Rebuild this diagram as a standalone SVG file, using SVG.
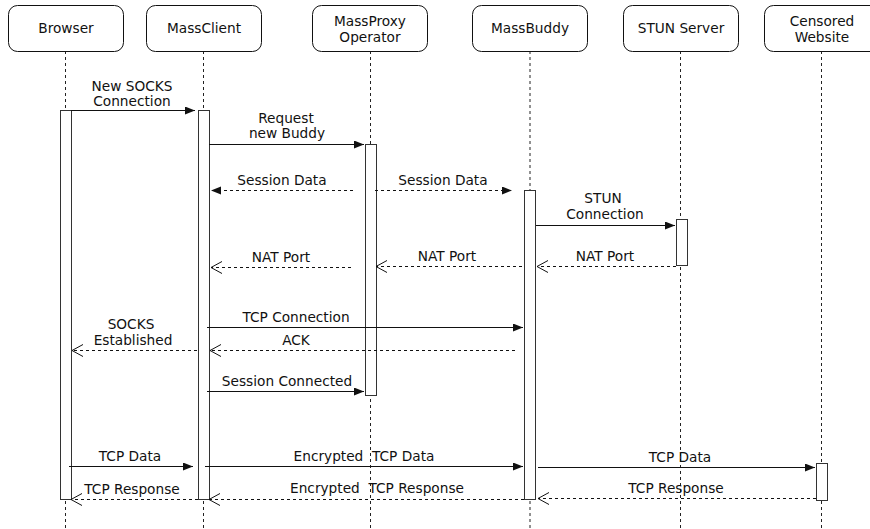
<svg xmlns="http://www.w3.org/2000/svg" width="870" height="529" viewBox="0 0 870 529">
<style>
text{font-family:"DejaVu Sans","Liberation Sans",sans-serif;font-size:13.7px;fill:#111;text-anchor:middle;white-space:pre}
.box{fill:#fff;stroke:#111;stroke-width:1}
.life{stroke:#222;stroke-width:1;stroke-dasharray:3 3;fill:none}
.act{fill:#fff;stroke:#333;stroke-width:1}
.m{stroke:#111;stroke-width:1;fill:none}
.d{stroke-dasharray:3 3}
.f{marker-end:url(#fa)}
.o{marker-end:url(#oa)}
</style>
<defs>
<marker id="fa" markerUnits="userSpaceOnUse" markerWidth="12" markerHeight="10" refX="10" refY="4" orient="auto" viewBox="0 0 12 10"><path d="M0,0 L10,4 L0,8 Z" fill="#111"/></marker>
<marker id="oa" markerUnits="userSpaceOnUse" markerWidth="14" markerHeight="14" refX="11" refY="6" orient="auto" viewBox="-1 -1 14 14"><path d="M0,0 L11,6 L0,12" fill="none" stroke="#111" stroke-width="1"/></marker>
</defs>
<g id="lifelines">
<line class="life" x1="65.5" y1="51" x2="65.5" y2="529"/>
<line class="life" x1="203.5" y1="51" x2="203.5" y2="529"/>
<line class="life" x1="370.5" y1="51" x2="370.5" y2="529"/>
<line class="life" x1="530" y1="51" x2="530" y2="529"/>
<line class="life" x1="680.5" y1="51" x2="680.5" y2="529"/>
<line class="life" x1="821.5" y1="51" x2="821.5" y2="529"/>
</g>
<g id="browser"><rect class="box" x="8.5" y="5.5" width="115" height="46" rx="9"/><text x="66" y="33">Browser</text><rect class="act" x="60.5" y="110.5" width="11" height="389"/></g>
<g id="massclient"><rect class="box" x="146.5" y="5.5" width="115" height="46" rx="9"/><text x="204" y="33">MassClient</text><rect class="act" x="198.5" y="110.5" width="11" height="389"/></g>
<g id="massproxy"><rect class="box" x="312.5" y="5.5" width="115" height="46" rx="9"/><text x="370" y="26">MassProxy</text><text x="370" y="41.5">Operator</text><rect class="act" x="365.5" y="144.5" width="11" height="251"/></g>
<g id="massbuddy"><rect class="box" x="472.5" y="5.5" width="115" height="46" rx="9"/><text x="530" y="33">MassBuddy</text><rect class="act" x="524.5" y="190.5" width="11" height="309"/></g>
<g id="stun"><rect class="box" x="623.5" y="5.5" width="115" height="46" rx="9"/><text x="681" y="33">STUN Server</text><rect class="act" x="676.5" y="219.5" width="11" height="46"/></g>
<g id="censored"><rect class="box" x="764.5" y="5.5" width="115" height="46" rx="9"/><text x="822" y="26">Censored</text><text x="822" y="41.5">Website</text><rect class="act" x="816.5" y="463.5" width="11" height="37"/></g>
<g id="connectors">
<line class="m f" x1="71" y1="110.5" x2="195" y2="110.5"/>
<text x="132" y="91">New SOCKS</text><text x="132" y="106">Connection</text>
<line class="m f" x1="209" y1="144.5" x2="364" y2="144.5"/>
<text x="286" y="123">Request</text><text x="287" y="138">new Buddy</text>
<line class="m d f" x1="353" y1="190.5" x2="211" y2="190.5"/>
<text x="282" y="185">Session Data</text>
<line class="m d f" x1="375" y1="190.5" x2="512" y2="190.5"/>
<text x="443" y="185">Session Data</text>
<line class="m f" x1="536" y1="225.5" x2="675" y2="225.5"/>
<text x="603" y="203">STUN</text><text x="605" y="219">Connection</text>
<line class="m d o" x1="676" y1="266.5" x2="537" y2="266.5"/>
<text x="605" y="261">NAT Port</text>
<line class="m d o" x1="522" y1="266.5" x2="376" y2="266.5"/>
<text x="447" y="261">NAT Port</text>
<line class="m d o" x1="351" y1="267.5" x2="211" y2="267.5"/>
<text x="281" y="262">NAT Port</text>
<line class="m f" x1="207" y1="327.5" x2="523" y2="327.5"/>
<text x="296" y="322">TCP Connection</text>
<line class="m d o" x1="515" y1="350.5" x2="210" y2="350.5"/>
<text x="296" y="345">ACK</text>
<line class="m d o" x1="197" y1="350.5" x2="72" y2="350.5"/>
<text x="131" y="329">SOCKS</text><text x="133" y="345">Established</text>
<line class="m f" x1="207" y1="391.5" x2="364" y2="391.5"/>
<text x="287" y="386">Session Connected</text>
<line class="m f" x1="69" y1="466.5" x2="193" y2="466.5"/>
<text x="130" y="461">TCP Data</text>
<line class="m f" x1="205" y1="466.5" x2="523" y2="466.5"/>
<text x="364" y="461">Encrypted  TCP Data</text>
<line class="m f" x1="538" y1="467.5" x2="815" y2="467.5"/>
<text x="680" y="462">TCP Data</text>
<line class="m d o" x1="816" y1="498.5" x2="538" y2="498.5"/>
<text x="676" y="493">TCP Response</text>
<line class="m d o" x1="524" y1="499.5" x2="209" y2="499.5"/>
<text x="377" y="493">Encrypted  TCP Response</text>
<line class="m d o" x1="198" y1="499.5" x2="71" y2="499.5"/>
<text x="132" y="494">TCP Response</text>
</g>
</svg>
